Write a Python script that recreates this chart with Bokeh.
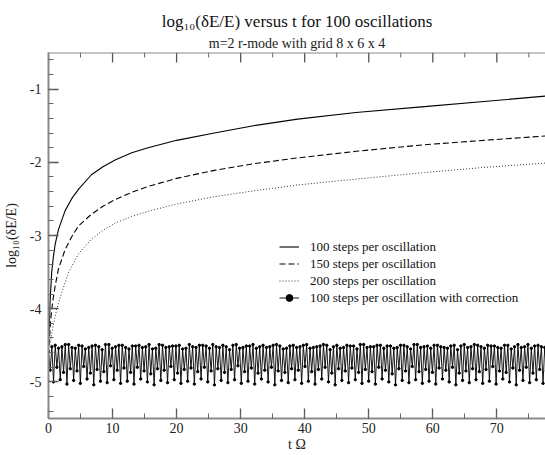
import numpy as np
from bokeh.plotting import figure
from bokeh.models import (LinearAxis, SingleIntervalTicker, Title, Legend,
                          LegendItem, Range1d, Span)
from bokeh.embed import file_html
from bokeh.resources import INLINE

# ---------------- text ----------------
title_text = "log\u2081\u2080(\u03b4E/E) versus t for 100 oscillations"
subtitle_text = "m=2 r-mode with grid 8 x 6 x 4"
x_label = "t \u03a9"
y_label = "log\u2081\u2080(\u03b4E/E)"
legend_labels = ["100 steps per oscillation",
                 "150 steps per oscillation",
                 "200 steps per oscillation",
                 "100 steps per oscillation with correction"]
y_tick_values = [-5, -4, -3, -2, -1]
y_tick_labels = ["-5", "-4", "-3", "-2", "-1"]

# ---------------- data ----------------
t100 = [0.1, 0.25, 0.5, 0.75, 1.04, 1.55, 2.6, 3.6, 4.67, 6.7, 8.5, 10.4,
        13.0, 15.55, 20.0, 25.9, 32.0, 38.9, 48.0, 58.7, 68.0, 77.6]
v100 = [-4.35, -3.9, -3.5, -3.3, -3.12, -2.92, -2.66, -2.5, -2.37, -2.17,
        -2.06, -1.97, -1.87, -1.80, -1.70, -1.60, -1.50, -1.41, -1.32, -1.24,
        -1.17, -1.095]

t150 = [0.1, 0.3, 0.52, 0.75, 1.04, 1.55, 2.6, 3.6, 4.67, 6.7, 8.5, 10.4,
        13.0, 15.55, 20.0, 25.9, 32.0, 38.9, 48.0, 58.7, 68.0, 77.6]
v150 = [-4.5, -4.2, -4.0, -3.85, -3.69, -3.46, -3.19, -3.02, -2.87, -2.71,
        -2.60, -2.51, -2.41, -2.33, -2.22, -2.11, -2.02, -1.94, -1.85, -1.76,
        -1.70, -1.64]

t200 = [0.2, 0.5, 0.8, 1.3, 2.07, 3.1, 4.67, 6.7, 8.5, 10.4, 13.0, 15.55,
        20.0, 25.9, 32.0, 38.9, 48.0, 58.7, 68.0, 77.6]
v200 = [-4.5, -4.35, -4.2, -4.0, -3.78, -3.51, -3.25, -3.05, -2.93, -2.83,
        -2.74, -2.67, -2.57, -2.47, -2.39, -2.31, -2.23, -2.14, -2.07, -2.01]

# corrected run: output samples (top, shallow dip, top, deep dip) per cycle
osc_period = 1.047
osc_cycles = [
    [-4.58, -4.84, -4.52, -5.00], [-4.50, -4.80, -4.54, -4.97],
    [-4.52, -4.87, -4.49, -5.03], [-4.49, -4.82, -4.53, -4.98],
    [-4.54, -4.85, -4.50, -5.02], [-4.51, -4.79, -4.55, -4.96],
    [-4.53, -4.88, -4.51, -5.04], [-4.50, -4.83, -4.52, -4.99],
    [-4.56, -4.86, -4.49, -5.01], [-4.49, -4.78, -4.54, -4.97],
    [-4.52, -4.84, -4.50, -5.02], [-4.50, -4.81, -4.53, -4.99],
    [-4.55, -4.87, -4.51, -5.03], [-4.51, -4.80, -4.50, -4.96],
    [-4.53, -4.85, -4.52, -5.00], [-4.49, -4.89, -4.55, -5.04],
    [-4.54, -4.82, -4.49, -4.98], [-4.50, -4.84, -4.53, -5.01],
    [-4.52, -4.79, -4.51, -4.97], [-4.51, -4.88, -4.50, -5.02],
    [-4.55, -4.83, -4.54, -4.99], [-4.49, -4.81, -4.52, -5.03],
    [-4.53, -4.86, -4.50, -4.96], [-4.50, -4.80, -4.51, -5.00],
    [-4.54, -4.85, -4.49, -5.04], [-4.52, -4.82, -4.53, -4.98],
    [-4.50, -4.87, -4.52, -5.01], [-4.56, -4.83, -4.50, -4.97],
    [-4.49, -4.78, -4.54, -5.02], [-4.53, -4.86, -4.51, -4.99],
    [-4.51, -4.81, -4.49, -5.03], [-4.54, -4.88, -4.52, -4.96],
    [-4.50, -4.84, -4.53, -5.00], [-4.52, -4.80, -4.50, -5.04],
    [-4.49, -4.85, -4.51, -4.98], [-4.55, -4.87, -4.54, -5.01],
    [-4.51, -4.82, -4.50, -4.97], [-4.53, -4.84, -4.52, -5.02],
    [-4.50, -4.79, -4.49, -4.99], [-4.54, -4.86, -4.53, -5.03],
    [-4.52, -4.83, -4.51, -4.96], [-4.49, -4.80, -4.50, -5.00],
    [-4.56, -4.88, -4.52, -5.04], [-4.50, -4.82, -4.54, -4.98],
    [-4.53, -4.85, -4.50, -5.01], [-4.51, -4.81, -4.51, -4.97],
    [-4.55, -4.87, -4.49, -5.02], [-4.49, -4.83, -4.53, -4.99],
    [-4.52, -4.86, -4.52, -5.03], [-4.50, -4.80, -4.50, -4.96],
    [-4.54, -4.84, -4.51, -5.00], [-4.51, -4.89, -4.54, -5.04],
    [-4.53, -4.82, -4.50, -4.98], [-4.50, -4.85, -4.52, -5.01],
    [-4.55, -4.79, -4.49, -4.97], [-4.49, -4.86, -4.53, -5.02],
    [-4.52, -4.83, -4.51, -4.99], [-4.54, -4.87, -4.50, -5.03],
    [-4.50, -4.81, -4.52, -4.96], [-4.53, -4.84, -4.54, -5.00],
    [-4.51, -4.80, -4.50, -5.04], [-4.56, -4.88, -4.51, -4.98],
    [-4.49, -4.85, -4.53, -5.01], [-4.52, -4.82, -4.49, -4.97],
    [-4.50, -4.86, -4.52, -5.02], [-4.54, -4.83, -4.50, -4.99],
    [-4.51, -4.79, -4.51, -5.03], [-4.53, -4.85, -4.54, -4.96],
    [-4.50, -4.87, -4.50, -5.00], [-4.55, -4.81, -4.52, -5.04],
    [-4.49, -4.84, -4.53, -4.98], [-4.52, -4.80, -4.49, -5.01],
    [-4.54, -4.88, -4.51, -4.97], [-4.50, -4.83, -4.52, -5.02],
    [-4.53, -4.85, -4.50, -4.99],
]

x_ticks_interval = 10
x_minor_interval = 5
y_ticks_interval = 1

# ---------------- build ----------------
FONT = "Times"
osc_v = [v for c in osc_cycles for v in c]
osc_t = np.arange(len(osc_v)) * (osc_period / 4.0)

x_lo, x_hi = 0, 77.6
y_lo, y_hi = -5.5, -0.5

p = figure(width=545, height=455, output_backend="svg", toolbar_location=None,
           x_range=Range1d(x_lo, x_hi), y_range=Range1d(y_lo, y_hi),
           x_axis_type=None, y_axis_type=None,
           min_border_left=46, min_border_right=0, min_border_top=52,
           min_border_bottom=37)
p.outline_line_color = None
p.background_fill_color = "white"
p.border_fill_color = "white"

AXIS_COLOR = "#8a8a8a"


def style_axis(ax):
    ax.axis_line_color = AXIS_COLOR
    ax.axis_line_width = 2
    ax.major_tick_in = 10
    ax.major_tick_out = 0
    ax.minor_tick_in = 5
    ax.minor_tick_out = 0
    ax.major_tick_line_color = "#555555"
    ax.minor_tick_line_color = "#666666"
    ax.major_tick_line_width = 1.3
    ax.minor_tick_line_width = 1
    ax.major_label_text_font = FONT
    ax.major_label_text_font_size = "14px"
    ax.major_label_text_color = "#222222"
    ax.axis_label_text_font = FONT
    ax.axis_label_text_font_style = "normal"
    ax.axis_label_text_font_size = "14px"
    ax.axis_label_text_color = "#222222"


xb = LinearAxis(ticker=SingleIntervalTicker(interval=x_ticks_interval, num_minor_ticks=2),
                axis_label=x_label)
style_axis(xb)
xb.major_label_standoff = 4
xb.axis_label_standoff = 1
p.add_layout(xb, "below")

yl = LinearAxis(ticker=SingleIntervalTicker(interval=y_ticks_interval, num_minor_ticks=5),
                axis_label=y_label)
style_axis(yl)
yl.major_label_overrides = dict(zip(y_tick_values, y_tick_labels))
yl.major_label_standoff = 7
yl.axis_label_standoff = 8
p.add_layout(yl, "left")

# top frame line with inward ticks (mirror of the bottom axis)
p.add_layout(Span(location=y_hi, dimension="width", line_color=AXIS_COLOR,
                  line_width=2))
top_major = list(np.arange(x_lo, x_hi, x_ticks_interval))
top_minor = list(np.arange(x_lo + x_minor_interval, x_hi, x_ticks_interval))
p.ray(x=top_major, y=[y_hi] * len(top_major), length=10, angle=-np.pi / 2,
      length_units="screen", line_color="#555555", line_width=1.3)
p.ray(x=top_minor, y=[y_hi] * len(top_minor), length=5, angle=-np.pi / 2,
      length_units="screen", line_color="#666666", line_width=1)

p.add_layout(Title(text=subtitle_text, align="center", text_font=FONT,
                   text_font_size="14px", text_font_style="normal",
                   text_color="#222222", standoff=3), "above")
p.add_layout(Title(text=title_text, align="center", text_font=FONT,
                   text_font_size="17px", text_font_style="normal",
                   text_color="#111111", standoff=3), "above")

r1 = p.line(t100, v100, line_color="black", line_width=1.1)
r2 = p.line(t150, v150, line_color="black", line_width=1.1, line_dash="6 3")
r3 = p.line(t200, v200, line_color="#333333", line_width=1.0, line_dash="1 2")
r4 = p.line(osc_t, osc_v, line_color="black", line_width=0.9)
r5 = p.scatter(osc_t, osc_v, size=2.4, marker="circle", color="black")

legend = Legend(items=[LegendItem(label=legend_labels[0], renderers=[r1]),
                       LegendItem(label=legend_labels[1], renderers=[r2]),
                       LegendItem(label=legend_labels[2], renderers=[r3]),
                       LegendItem(label=legend_labels[3], renderers=[r4, r5])],
                location=(231, 112), orientation="vertical",
                border_line_color=None, background_fill_alpha=0,
                padding=0, margin=0, spacing=0,
                label_height=17, glyph_height=17, glyph_width=20,
                label_standoff=11, label_text_font=FONT,
                label_text_font_size="13px", label_text_color="#111111")
p.add_layout(legend, "center")

open("out.html", "w").write(file_html(p, INLINE))
